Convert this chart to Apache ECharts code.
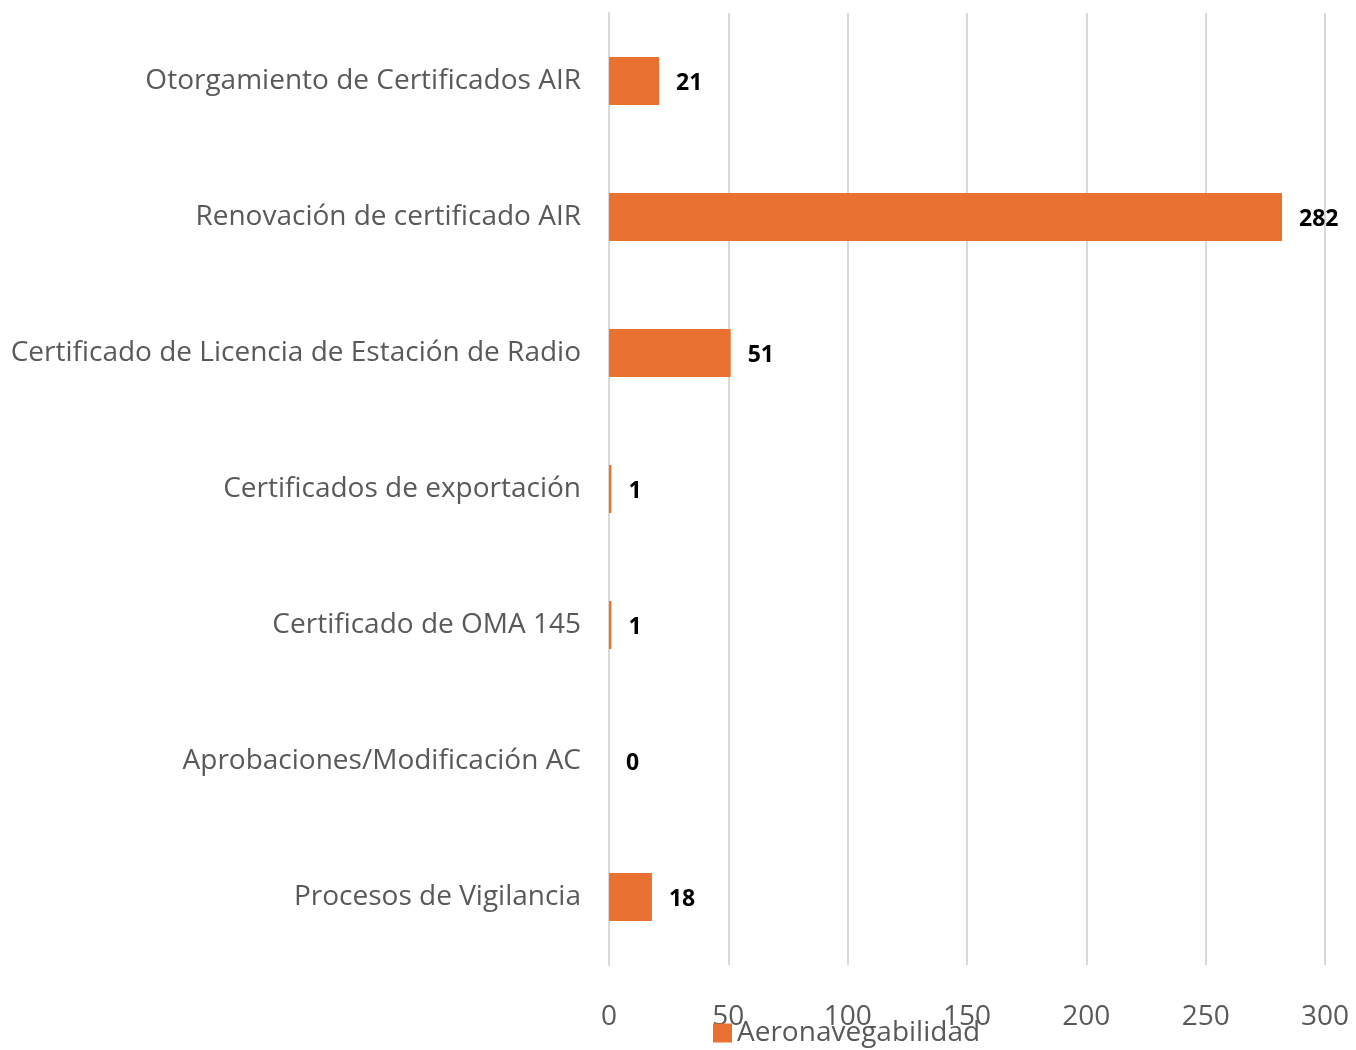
<!DOCTYPE html>
<html>
<head>
<meta charset="utf-8">
<title>Aeronavegabilidad</title>
<script src="https://cdn.jsdelivr.net/npm/echarts@6/dist/echarts.min.js"></script>
<style>
  html, body { margin: 0; padding: 0; background: #fff; }
  #main { width: 1356px; height: 1050px; }
</style>
</head>
<body>
<div id="main"></div>
<script>
  var categories = [
    'Otorgamiento de Certificados AIR',
    'Renovación de certificado AIR',
    'Certificado de Licencia de Estación de Radio',
    'Certificados de exportación',
    'Certificado de OMA 145',
    'Aprobaciones/Modificación AC',
    'Procesos de Vigilancia'
  ];
  var seriesName = 'Aeronavegabilidad';
  var values = [21, 282, 51, 1, 1, 0, 18];
  var xTicks = [0, 50, 100, 150, 200, 250, 300];

  var labelFont = '"Open Sans", Lato, sans-serif';
  var myChart = echarts.init(document.getElementById('main'));

  var option = {
    animation: false,
    grid: { left: 609, right: 31, top: 13, bottom: 85 },
    legend: {
      data: [seriesName],
      left: 708,
      top: 1014,
      itemWidth: 19,
      itemHeight: 19,
      itemGap: 10,
      icon: 'rect',
      textStyle: { color: '#595959', fontSize: 28, fontFamily: labelFont }
    },
    xAxis: {
      type: 'value',
      min: xTicks[0],
      max: xTicks[xTicks.length - 1],
      interval: 50,
      axisLine: { show: false },
      axisTick: { show: false },
      splitLine: { lineStyle: { color: '#d9d9d9', width: 2 } },
      axisLabel: {
        color: '#595959', fontSize: 28, fontFamily: labelFont, margin: 38
      }
    },
    yAxis: {
      type: 'category',
      inverse: true,
      data: categories,
      axisLine: { show: true, lineStyle: { color: '#d9d9d9', width: 2 } },
      axisTick: { show: false },
      axisLabel: {
        color: '#595959', fontSize: 28, fontFamily: labelFont, margin: 28
      }
    },
    series: [{
      name: seriesName,
      type: 'bar',
      data: values,
      barWidth: 48,
      itemStyle: { color: '#E97132' },
      label: {
        show: true,
        position: 'right',
        distance: 17,
        offset: [0, 2],
        color: '#000',
        fontWeight: 'bold',
        fontSize: 23,
        fontFamily: labelFont
      }
    }]
  };
  myChart.setOption(option);
</script>
</body>
</html>
